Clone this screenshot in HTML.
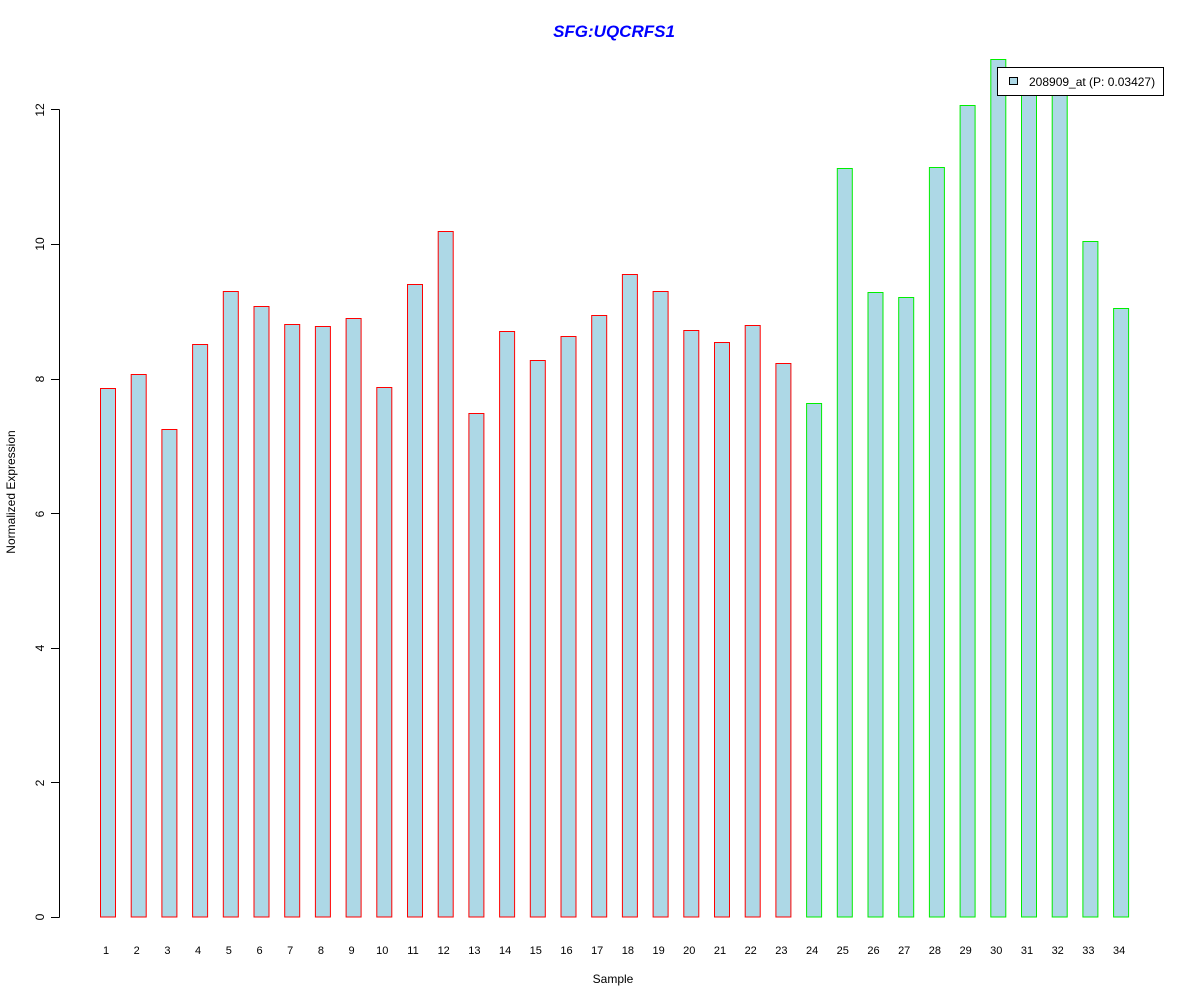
<!DOCTYPE html>
<html><head><meta charset="utf-8"><style>body{margin:0;background:#fff}svg{display:block}</style></head>
<body>
<svg width="1200" height="1000" xmlns="http://www.w3.org/2000/svg" font-family="Liberation Sans, Arial, sans-serif">
<rect width="1200" height="1000" fill="#fff"/>
<text x="614" y="37" text-anchor="middle" font-size="17" font-weight="bold" font-style="italic" fill="#0000ff">SFG:UQCRFS1</text>
<g fill="#add8e6" stroke="#ff0000" stroke-width="1">
<rect x="100.5" y="388.5" width="15" height="528.5"/>
<rect x="131.2" y="374.5" width="15" height="542.5"/>
<rect x="161.9" y="429.5" width="15" height="487.5"/>
<rect x="192.6" y="344.5" width="15" height="572.5"/>
<rect x="223.3" y="291.5" width="15" height="625.5"/>
<rect x="254" y="306.5" width="15" height="610.5"/>
<rect x="284.7" y="324.5" width="15" height="592.5"/>
<rect x="315.4" y="326.5" width="15" height="590.5"/>
<rect x="346.1" y="318.5" width="15" height="598.5"/>
<rect x="376.8" y="387.5" width="15" height="529.5"/>
<rect x="407.5" y="284.5" width="15" height="632.5"/>
<rect x="438.2" y="231.5" width="15" height="685.5"/>
<rect x="468.9" y="413.5" width="15" height="503.5"/>
<rect x="499.6" y="331.5" width="15" height="585.5"/>
<rect x="530.3" y="360.5" width="15" height="556.5"/>
<rect x="561" y="336.5" width="15" height="580.5"/>
<rect x="591.7" y="315.5" width="15" height="601.5"/>
<rect x="622.4" y="274.5" width="15" height="642.5"/>
<rect x="653.1" y="291.5" width="15" height="625.5"/>
<rect x="683.8" y="330.5" width="15" height="586.5"/>
<rect x="714.5" y="342.5" width="15" height="574.5"/>
<rect x="745.2" y="325.5" width="15" height="591.5"/>
<rect x="775.9" y="363.5" width="15" height="553.5"/>
</g>
<g fill="#add8e6" stroke="#00ee00" stroke-width="1">
<rect x="806.6" y="403.5" width="15" height="513.5"/>
<rect x="837.3" y="168.5" width="15" height="748.5"/>
<rect x="868" y="292.5" width="15" height="624.5"/>
<rect x="898.7" y="297.5" width="15" height="619.5"/>
<rect x="929.4" y="167.5" width="15" height="749.5"/>
<rect x="960.1" y="105.5" width="15" height="811.5"/>
<rect x="990.8" y="59.5" width="15" height="857.5"/>
<rect x="1021.5" y="82.5" width="15" height="834.5"/>
<rect x="1052.2" y="82.5" width="15" height="834.5"/>
<rect x="1082.9" y="241.5" width="15" height="675.5"/>
<rect x="1113.6" y="308.5" width="15" height="608.5"/>
</g>
<g stroke="#000" stroke-width="1">
<line x1="59.5" y1="109.5" x2="59.5" y2="917.5"/>
<line x1="51" y1="917.5" x2="59.5" y2="917.5"/>
<line x1="51" y1="782.5" x2="59.5" y2="782.5"/>
<line x1="51" y1="648.5" x2="59.5" y2="648.5"/>
<line x1="51" y1="513.5" x2="59.5" y2="513.5"/>
<line x1="51" y1="379.5" x2="59.5" y2="379.5"/>
<line x1="51" y1="244.5" x2="59.5" y2="244.5"/>
<line x1="51" y1="109.5" x2="59.5" y2="109.5"/>
</g>
<g font-size="12" fill="#000" text-anchor="middle">
<text transform="translate(44,917) rotate(-90)">0</text>
<text transform="translate(44,783) rotate(-90)">2</text>
<text transform="translate(44,648) rotate(-90)">4</text>
<text transform="translate(44,514) rotate(-90)">6</text>
<text transform="translate(44,379) rotate(-90)">8</text>
<text transform="translate(44,244) rotate(-90)">10</text>
<text transform="translate(44,110) rotate(-90)">12</text>
<text transform="translate(15,492) rotate(-90)">Normalized Expression</text>
<text x="613" y="983">Sample</text>
</g>
<g font-size="11" fill="#000" text-anchor="middle" transform="translate(-2,0)">
<text x="108" y="954">1</text><text x="138.7" y="954">2</text><text x="169.4" y="954">3</text><text x="200.1" y="954">4</text><text x="230.8" y="954">5</text><text x="261.5" y="954">6</text><text x="292.2" y="954">7</text><text x="322.9" y="954">8</text><text x="353.6" y="954">9</text><text x="384.3" y="954">10</text><text x="415" y="954">11</text><text x="445.7" y="954">12</text><text x="476.4" y="954">13</text><text x="507.1" y="954">14</text><text x="537.8" y="954">15</text><text x="568.5" y="954">16</text><text x="599.2" y="954">17</text><text x="629.9" y="954">18</text><text x="660.6" y="954">19</text><text x="691.3" y="954">20</text><text x="722" y="954">21</text><text x="752.7" y="954">22</text><text x="783.4" y="954">23</text><text x="814.1" y="954">24</text><text x="844.8" y="954">25</text><text x="875.5" y="954">26</text><text x="906.2" y="954">27</text><text x="936.9" y="954">28</text><text x="967.6" y="954">29</text><text x="998.3" y="954">30</text><text x="1029" y="954">31</text><text x="1059.7" y="954">32</text><text x="1090.4" y="954">33</text><text x="1121.1" y="954">34</text>
</g>
<rect x="997.5" y="67.5" width="166" height="28" fill="#fff" stroke="#000" stroke-width="1"/>
<rect x="1009.5" y="77.5" width="8" height="7" fill="#add8e6" stroke="#000" stroke-width="1"/>
<text x="1029" y="86" font-size="12" fill="#000">208909_at (P: 0.03427)</text>
</svg>
</body></html>
